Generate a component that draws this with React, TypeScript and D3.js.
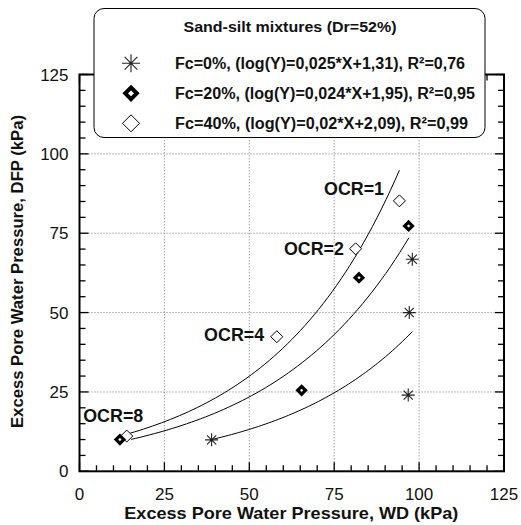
import React from "react";
import * as d3 from "d3";

const W = 521;
const H = 525;

// Data (kPa)
const fc0X = [38.9, 96.8, 97.1, 98.0];
const fc0Y = [9.9, 24.0, 50.0, 66.8];
const fc20X = [11.9, 65.4, 82.3, 96.9];
const fc20Y = [10.0, 25.5, 61.0, 77.3];
const fc40X = [13.9, 58.1, 81.3, 94.2];
const fc40Y = [11.1, 42.4, 70.1, 85.2];

// fitted exponential trend lines: ln(Y) = k*X + c, drawn over [x0, x1]
const fitK = [0.02507, 0.02434, 0.02607];
const fitC = [1.3274, 1.9375, 2.0965];
const fitX0 = [38.9, 15.2, 14.9];
const fitX1 = [98.0, 97.0, 94.2];

const legendTitle = "Sand-silt mixtures (Dr=52%)";
const legendLabels = [
  "Fc=0%, (log(Y)=0,025*X+1,31), R\u00B2=0,76",
  "Fc=20%, (log(Y)=0,024*X+1,95), R\u00B2=0,95",
  "Fc=40%, (log(Y)=0,02*X+2,09), R\u00B2=0,99",
];
const legendWidths = [290, 300, 293];

const ocrLabels = ["OCR=1", "OCR=2", "OCR=4", "OCR=8"];
const ocrX = [72.0, 60.2, 36.7, 1.1];
const ocrY = [87.1, 68.2, 40.9, 15.6];

const xTicks = [0, 25, 50, 75, 100, 125];
const yTicks = [0, 25, 50, 75, 100, 125];
const gridVals = [25, 50, 75, 100];

const xLabel = "Excess Pore Water Pressure, WD (kPa)";
const yLabel = "Excess Pore Water Pressure, DFP (kPa)";

const FONT = "'Liberation Sans', Arial, Helvetica, sans-serif";

function starPath(r: number) {
  const a = r * Math.SQRT1_2;
  return `M${-r},0L${r},0M0,${-r}L0,${r}M${-a},${-a}L${a},${a}M${-a},${a}L${a},${-a}`;
}
function diamondPath(r: number) {
  return `M0,${-r}L${r},0L0,${r}L${-r},0Z`;
}

function Star({ cx, cy, r }: { cx: number; cy: number; r: number }) {
  return (
    <path
      d={starPath(r)}
      transform={`translate(${cx},${cy})`}
      stroke="#222"
      strokeWidth={1.1}
      fill="none"
    />
  );
}
function FilledDiamond({ cx, cy, r, w }: { cx: number; cy: number; r: number; w: number }) {
  return (
    <path
      d={diamondPath(r)}
      transform={`translate(${cx},${cy})`}
      stroke="#000"
      strokeWidth={w}
      fill="#fff"
      strokeLinejoin="miter"
    />
  );
}
function OpenDiamond({ cx, cy, r }: { cx: number; cy: number; r: number }) {
  return (
    <path
      d={diamondPath(r)}
      transform={`translate(${cx},${cy})`}
      stroke="#000"
      strokeWidth={1}
      fill="#fff"
    />
  );
}

export default function App() {
  const x = d3.scaleLinear().domain([0, 125]).range([79.5, 504]);
  const y = d3.scaleLinear().domain([0, 125]).range([471.3, 74.5]);
  const [x0, x1] = x.range();
  const [yb, yt] = y.range();

  const minor = d3.range(0, 126, 5);
  const line = d3
    .line<[number, number]>()
    .x((d) => x(d[0]))
    .y((d) => y(d[1]))
    .curve(d3.curveLinear);

  const fits = fitK.map((k, i) => {
    const pts: [number, number][] = d3
      .range(0, 61)
      .map((j) => {
        const xv = fitX0[i] + ((fitX1[i] - fitX0[i]) * j) / 60;
        return [xv, Math.exp(k * xv + fitC[i])] as [number, number];
      });
    return line(pts) || "";
  });

  const legX = 94;
  const legY = 8.5;
  const legW = 391;
  const legH = 129;
  const rowBase = [69.3, 99.3, 129.3];

  return (
    <svg
      width={W}
      height={H}
      style={{ position: "absolute", left: 0, top: 0, background: "#fff" }}
      fontFamily={FONT}
    >
      <rect x={0} y={0} width={W} height={H} fill="#fff" />
      {/* grid */}
      <g stroke="#555" strokeWidth={0.8} strokeDasharray="1,2">
        {gridVals.map((v) => (
          <line key={"gx" + v} x1={x(v)} x2={x(v)} y1={yb} y2={yt} />
        ))}
        {gridVals.map((v) => (
          <line key={"gy" + v} x1={x0} x2={x1} y1={y(v)} y2={y(v)} />
        ))}
      </g>
      {/* ticks */}
      <g stroke="#000" strokeWidth={1.3}>
        {minor.map((v) => {
          const major = v % 25 === 0;
          const L = major ? 9 : 6;
          return (
            <g key={"t" + v}>
              <line x1={x(v)} x2={x(v)} y1={yb} y2={yb - L} />
              <line x1={x(v)} x2={x(v)} y1={yt} y2={yt + L} />
              <line x1={x0} x2={x0 + L} y1={y(v)} y2={y(v)} />
              <line x1={x1} x2={x1 - L} y1={y(v)} y2={y(v)} />
            </g>
          );
        })}
      </g>
      {/* frame */}
      <rect x={x0} y={yt} width={x1 - x0} height={yb - yt} fill="none" stroke="#000" strokeWidth={2} />

      {/* fit curves */}
      <g fill="none" stroke="#000" strokeWidth={1}>
        {fits.map((d, i) => (
          <path key={"f" + i} d={d} />
        ))}
      </g>

      {/* points */}
      {fc0X.map((v, i) => (
        <Star key={"s" + i} cx={x(v)} cy={y(fc0Y[i])} r={6.5} />
      ))}
      {fc40X.map((v, i) => (
        <OpenDiamond key={"o" + i} cx={x(v)} cy={y(fc40Y[i])} r={6} />
      ))}
      {fc20X.map((v, i) => (
        <FilledDiamond key={"d" + i} cx={x(v)} cy={y(fc20Y[i])} r={3.9} w={3.2} />
      ))}

      {/* OCR labels */}
      {ocrLabels.map((t, i) => (
        <text
          key={t}
          x={x(ocrX[i])}
          y={y(ocrY[i])}
          fontSize={17.5}
          fontWeight="bold"
          fill="#111"
          textLength={60}
          lengthAdjust="spacingAndGlyphs"
        >
          {t}
        </text>
      ))}

      {/* tick labels */}
      {xTicks.map((v) => (
        <text key={"xl" + v} x={x(v)} y={500} fontSize={17} textAnchor="middle" fill="#111">
          {v}
        </text>
      ))}
      {yTicks.map((v) => (
        <text key={"yl" + v} x={68.5} y={y(v) + 6} fontSize={17} textAnchor="end" fill="#111">
          {v}
        </text>
      ))}

      {/* axis titles */}
      <text
        x={291.3}
        y={519}
        fontSize={16.5}
        fontWeight="bold"
        textAnchor="middle"
        fill="#111"
        textLength={334}
        lengthAdjust="spacingAndGlyphs"
      >
        {xLabel}
      </text>
      <text
        transform={`translate(23,271.5) rotate(-90)`}
        fontSize={16.5}
        fontWeight="bold"
        textAnchor="middle"
        fill="#111"
        textLength={313}
        lengthAdjust="spacingAndGlyphs"
      >
        {yLabel}
      </text>

      {/* legend */}
      <rect x={legX} y={legY} width={legW} height={legH} rx={10} ry={10} fill="#fff" stroke="#000" strokeWidth={1} />
      <text
        x={290}
        y={31.5}
        fontSize={15}
        fontWeight="bold"
        textAnchor="middle"
        fill="#111"
        textLength={213}
        lengthAdjust="spacingAndGlyphs"
      >
        {legendTitle}
      </text>
      {legendLabels.map((t, i) => (
        <text
          key={"lg" + i}
          x={175}
          y={rowBase[i]}
          fontSize={16}
          fontWeight="bold"
          fill="#111"
          textLength={legendWidths[i]}
          lengthAdjust="spacingAndGlyphs"
        >
          {t}
        </text>
      ))}
      <Star cx={131} cy={rowBase[0] - 6} r={9} />
      <FilledDiamond cx={131} cy={rowBase[1] - 6} r={5.8} w={4} />
      <OpenDiamond cx={131} cy={rowBase[2] - 6} r={8.5} />
    </svg>
  );
}
